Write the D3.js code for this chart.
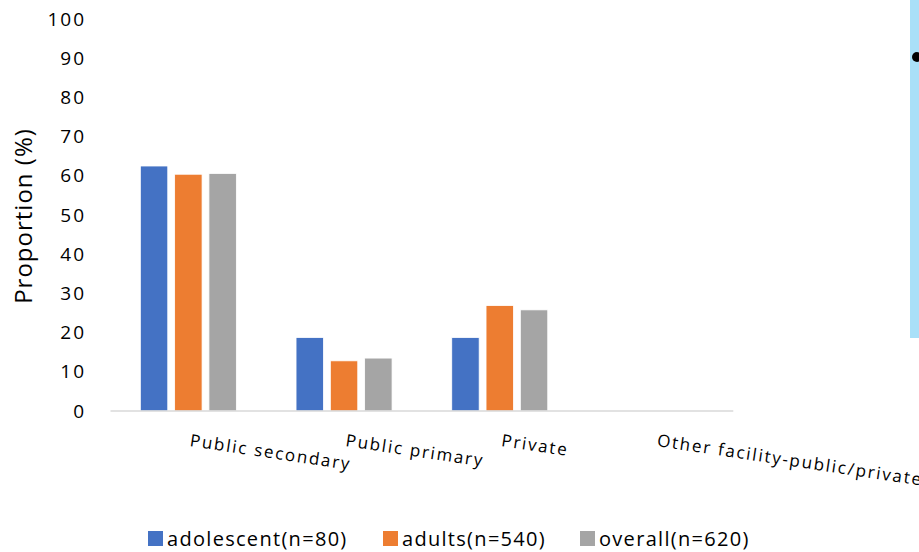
<!DOCTYPE html>
<html>
<head>
<meta charset="utf-8">
<script src="https://cdn.jsdelivr.net/npm/d3@7"></script>
<style>
  html, body { margin: 0; padding: 0; background: #ffffff; }
  svg { display: block; }
</style>
</head>
<body>
<svg id="chart" width="919" height="552"></svg>
<script>
// Facility type by group, proportion (%)
const categories = ["Public secondary", "Public primary", "Private", "Other facility-public/private"];
const seriesNames = ["adolescent(n=80)", "adults(n=540)", "overall(n=620)"];
const adolescent = [62.5, 18.75, 18.75, 0];
const adults = [60.4, 12.8, 26.9, 0];
const overall = [60.6, 13.5, 25.8, 0];
const yTicks = [0, 10, 20, 30, 40, 50, 60, 70, 80, 90, 100];
const colors = ["#4472c4", "#ed7d31", "#a5a5a5"];

const seriesValues = [adolescent, adults, overall];
const rows = categories.map((c, i) => ({
  category: c,
  values: seriesNames.map((s, j) => ({ series: s, value: seriesValues[j][i], color: colors[j] }))
}));

const svg = d3.select("#chart");
const labelFont = "'Open Sans', 'Noto Sans', sans-serif";

// side panel on the right edge
svg.append("rect")
  .attr("x", 910).attr("y", 0).attr("width", 9).attr("height", 338)
  .attr("fill", "#a9e0f8");
svg.append("circle")
  .attr("cx", 917).attr("cy", 57).attr("r", 5)
  .attr("fill", "#000");

const x0 = d3.scaleBand().domain(categories).range([110.5, 733.3]).paddingInner(0).paddingOuter(0);
const x1 = d3.scaleBand().domain(seriesNames).range([0, x0.bandwidth()]).paddingInner(0.2).paddingOuter(0.87);
const y = d3.scaleLinear().domain([0, 100]).range([411, 19]);

// y tick labels (no axis line, no tick marks)
const yAxis = d3.axisLeft(y).tickValues(yTicks).tickSize(0).tickPadding(0);
const gy = svg.append("g").attr("transform", "translate(86,0)").call(yAxis);
gy.select(".domain").remove();
gy.selectAll("text")
  .attr("font-family", labelFont)
  .attr("font-size", 19)
  .attr("letter-spacing", 2)
  .attr("fill", "#000");

// bars
const groups = svg.append("g").selectAll("g")
  .data(rows).join("g")
  .attr("transform", d => `translate(${x0(d.category)},0)`);
groups.selectAll("rect")
  .data(d => d.values).join("rect")
  .attr("x", d => x1(d.series))
  .attr("width", x1.bandwidth())
  .attr("y", d => y(d.value))
  .attr("height", d => y(0) - y(d.value))
  .attr("fill", d => d.color)
  .attr("stroke", "#ffffff")
  .attr("stroke-width", 0.8);

// baseline
svg.append("line")
  .attr("x1", x0.range()[0]).attr("x2", x0.range()[1])
  .attr("y1", y(0)).attr("y2", y(0))
  .attr("stroke", "#d9d9d9").attr("stroke-width", 1.5);

// rotated category labels
svg.append("g").selectAll("text")
  .data(categories).join("text")
  .attr("transform", d => `translate(${x0(d) + x0.bandwidth() / 2 + 1},446) rotate(8.5)`)
  .attr("text-anchor", "start")
  .attr("font-family", labelFont)
  .attr("font-size", 17)
  .attr("letter-spacing", 1.8)
  .attr("fill", "#000")
  .text(d => d);

// y axis title
svg.append("text")
  .attr("transform", "translate(32,216) rotate(-90)")
  .attr("text-anchor", "middle")
  .attr("font-family", labelFont)
  .attr("font-size", 24)
  .attr("letter-spacing", 1)
  .attr("fill", "#000")
  .text("Proportion (%)");

// legend
const legendX = [148, 383, 580];
const legend = svg.append("g").selectAll("g")
  .data(seriesNames).join("g")
  .attr("transform", (d, i) => `translate(${legendX[i]},531)`);
legend.append("rect")
  .attr("width", 15).attr("height", 15)
  .attr("fill", (d, i) => colors[i]);
legend.append("text")
  .attr("x", 19).attr("y", 8)
  .attr("dy", "0.35em")
  .attr("font-family", labelFont)
  .attr("font-size", 20)
  .attr("letter-spacing", 1.3)
  .attr("fill", "#000")
  .text(d => d);
</script>
</body>
</html>
